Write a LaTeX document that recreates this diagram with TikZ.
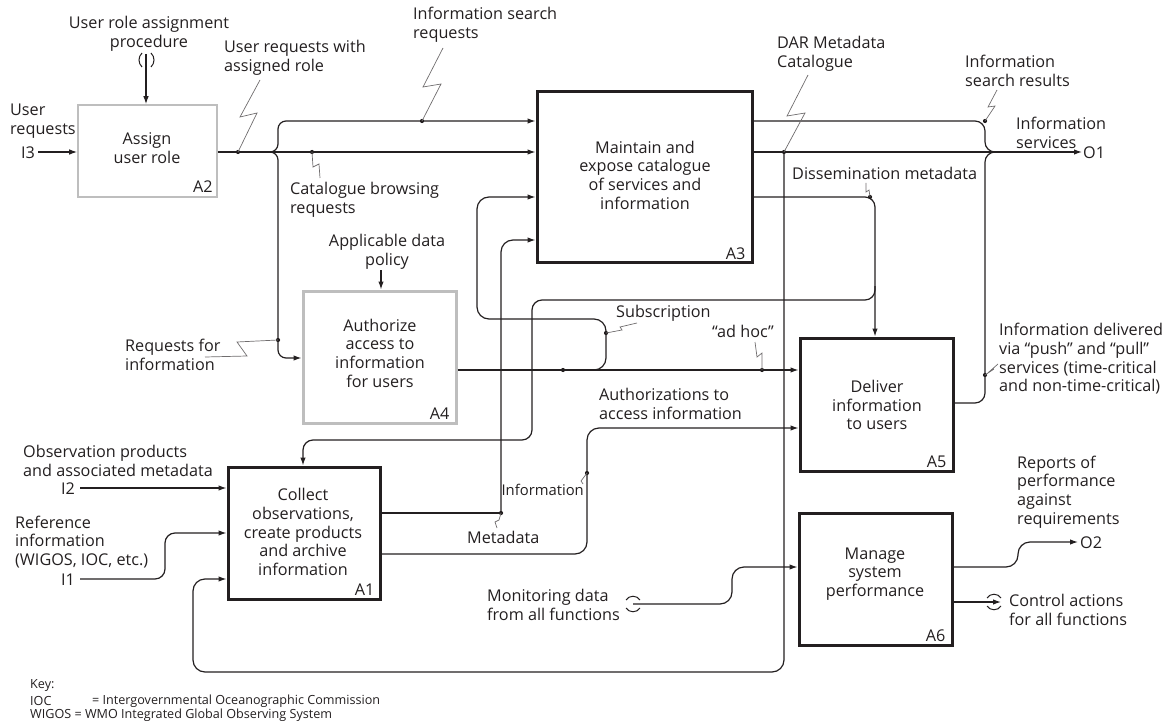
\documentclass[tikz,border=0pt]{standalone}
\usepackage{fontspec}
\setmainfont{Open Sans}
\usetikzlibrary{arrows.meta}
\definecolor{ink}{HTML}{231F20}
\definecolor{gbox}{HTML}{BEBEBE}
\begin{document}
\begin{tikzpicture}[x=1pt,y=-1pt,
  every node/.style={inner sep=0pt},
  lbl/.style={font=\fontsize{16.2}{18.7}\selectfont, text=ink},
  keytxt/.style={font=\fontsize{12.6}{13}\selectfont, text=ink},
  conn/.style={draw=ink, line width=1.2pt},
  arr/.style={conn, -{Latex[length=8pt,width=5.5pt]}},
  bolt/.style={draw=ink!65, line width=0.7pt},
  jdot/.style={circle, fill=ink, minimum size=4.2pt},
  boxk/.style={draw=ink, line width=3pt},
  boxg/.style={draw=gbox, line width=1.6pt},
  boxgg/.style={draw=gbox, line width=3pt},
  tun/.style={draw=ink, line width=1pt}]
\useasboundingbox (0,0) rectangle (1169,727);

% ---------- boxes ----------
\node[boxg, minimum width=139pt, minimum height=92pt] (a2) at (147.5,151) {};
\node[boxk, minimum width=215pt, minimum height=171pt] (a3) at (644.5,177.5) {};
\node[boxgg, minimum width=153pt, minimum height=132pt] (a4) at (379.5,357) {};
\node[boxk, minimum width=153pt, minimum height=133pt] (a5) at (876.5,404.5) {};
\node[boxk, minimum width=153pt, minimum height=132pt] (a6) at (875.5,579) {};
\node[boxk, minimum width=152pt, minimum height=132pt] (a1) at (304,533) {};

\node[lbl, align=center] (t2) at (147,148) {Assign\\user role};
\node[lbl, align=center] (t3) at (645,175) {Maintain and\\expose catalogue\\of services and\\information};
\node[lbl, align=center] (t4) at (380,353) {Authorize\\access to\\information\\for users};
\node[lbl, align=center] (t5) at (877,405) {Deliver\\information\\to users};
\node[lbl, align=center] (t6) at (875,574) {Manage\\system\\performance};
\node[lbl, align=center] (t1) at (303,532) {Collect\\observations,\\create products\\and archive\\information};

\node[lbl, anchor=south east] (id2) at ([shift={(-5,-5)}]a2.south east) {A2};
\node[lbl, anchor=south east] (id3) at ([shift={(-8,-5)}]a3.south east) {A3};
\node[lbl, anchor=south east] (id4) at ([shift={(-8,-5)}]a4.south east) {A4};
\node[lbl, anchor=south east] (id5) at ([shift={(-8,-5)}]a5.south east) {A5};
\node[lbl, anchor=south east] (id6) at ([shift={(-8,-5)}]a6.south east) {A6};
\node[lbl, anchor=south east] (id1) at ([shift={(-7,-5)}]a1.south east) {A1};

% ---------- A2 inputs / control ----------
\node[lbl, anchor=west, align=left] (lUser) at (10,121) {User\\requests};
\node[lbl] (lI3) at (28,153) {I3};
\draw[arr] (38,152) -- (a2.west |- 0,152);
\node[lbl, align=center] (lProc) at (149,34) {User role assignment\\procedure};
\coordinate (tunA) at (146,54);
\draw[arr] (tunA) -- (a2.north -| tunA);
\draw[tun] (142,53) .. controls (138,57) and (138,63) .. (142,67);
\draw[tun] (151,53) .. controls (155,57) and (155,63) .. (151,67);

% ---------- A2 output and branches ----------
\draw[arr] (a2.east |- 0,152) -- (a3.west |- 0,152);
\draw[arr, rounded corners=8pt] (270,152) -- (278,152) -- (278,121) -- (a3.west |- 0,121);
\draw[arr, rounded corners=8pt] (270,152) -- (278,152) -- (278,358) -- (a4.west |- 0,358);
\node[jdot] (d1) at (238,152) {};
\node[jdot] (d2) at (422,121) {};
\node[jdot] (d3) at (312,152) {};
\node[jdot] (d4) at (278,340) {};

\node[lbl, anchor=west, align=left] (lReqRole) at (224,58) {User requests with\\assigned role};
\draw[bolt] (d1.center) -- (257,113) -- (240,117) -- (260,80);
\node[lbl, anchor=west, align=left] (lSearch) at (413,25) {Information search\\requests};
\draw[bolt] (d2.center) -- (441,84) -- (423,87) -- (443,48);
\node[lbl, anchor=west, align=left] (lBrowse) at (290,200) {Catalogue browsing\\requests};
\draw[bolt] (d3.center) -- (313,167) -- (319,164) -- (320,178);
\node[lbl, anchor=west, align=left] (lReqInfo) at (125,355) {Requests for\\information};
\draw[bolt] (d4.center) -- (237,342) -- (247,356) -- (205,357);

% ---------- A3 outputs ----------
\draw[arr] (a3.east |- 0,152) -- (1082,152);
\draw[conn, rounded corners=10pt] (a3.east |- 0,121) -- (985,121) -- (985,152) -- (997,152);
\draw[conn, rounded corners=10pt] (a5.east |- 0,403) -- (985,403) -- (985,152) -- (997,152);
\draw[arr, rounded corners=10pt] (a3.east |- 0,197) -- (875,197) -- (a5.north -| 875,0);
\draw[arr, rounded corners=10pt] (875,286) -- (875,300) -- (532,300) -- (532,440) -- (303,440) -- (a1.north -| 303,0);
\draw[arr, rounded corners=12pt] (784,152) -- (784,672) -- (193,672) -- (193,579) -- (a1.west |- 0,579);

\node[jdot] (d5) at (784,152) {};
\node[jdot] (d6) at (985,121) {};
\node[jdot] (d7) at (870,197) {};
\node[jdot] (d8) at (985,375) {};

\node[lbl, anchor=west, align=left] (lDAR) at (777,54) {DAR Metadata\\Catalogue};
\draw[bolt] (d5.center) -- (805,113) -- (787,116) -- (808,75);
\node[lbl, anchor=west, align=left] (lResults) at (965,71) {Information\\search results};
\draw[bolt] (d6.center) -- (995,106) -- (988,107) -- (997,90);
\node[lbl, anchor=west, align=left] (lServ) at (1016,133) {Information\\services};
\node[lbl, anchor=west] (lO1) at (1083,153) {O1};
\node[lbl, anchor=west] (lDissem) at (792,173) {Dissemination metadata};
\draw[bolt] (d7.center) -- (869,190) -- (866,192) -- (866,183);
\node[lbl, anchor=west, align=left] (lDeliv) at (999,359) {Information delivered\\via “push” and “pull”\\services (time-critical\\and non-time-critical)};
\draw[bolt] (d8.center) -- (994,369) -- (990,371) -- (998,364);

% ---------- A4 ----------
\node[lbl, align=center] (lPolicy) at (387,252) {Applicable data\\policy};
\draw[arr] (381,270) -- (a4.north -| 381,0);
\draw[arr] (a4.east |- 0,370) -- (a5.west |- 0,370);
\draw[arr, rounded corners=12pt] (585,370) -- (606,370) -- (606,319) -- (477,319) -- (477,197) -- (a3.west |- 0,197);
\node[jdot] (d9) at (563,370) {};
\node[jdot] (d10) at (762,370) {};
\node[jdot] (d11) at (606,333) {};
\node[lbl, anchor=west] (lSub) at (616,313) {Subscription};
\draw[bolt] (d11.center) -- (622,330) -- (620,327) -- (637,323);
\node[lbl, anchor=west] (lAdhoc) at (712,331) {“ad hoc”};
\draw[bolt] (d10.center) -- (762,353) -- (757,357) -- (755,342);

% ---------- A1 ----------
\node[lbl, anchor=west, align=left] (lObs) at (23,461) {Observation products\\and associated metadata};
\node[lbl] (lI2) at (68,489) {I2};
\draw[arr] (80,488) -- (a1.west |- 0,488);
\node[lbl, anchor=west, align=left] (lRef) at (15,542) {Reference\\information\\(WIGOS, IOC, etc.)};
\node[lbl] (lI1) at (68,580) {I1};
\draw[arr, rounded corners=10pt] (80,579) -- (165,579) -- (165,533) -- (a1.west |- 0,533);

\draw[conn] (a1.east |- 0,513) -- (501,513);
\draw[arr, rounded corners=12pt] (501,513) -- (501,240) -- (a3.west |- 0,240);
\node[jdot] (d12) at (501,513) {};
\node[lbl, anchor=west] (lMeta) at (467,537) {Metadata};
\draw[bolt] (d12.center) -- (499,520) -- (495,522) -- (497,528);

\draw[arr, rounded corners=12pt] (a1.east |- 0,554) -- (587,554) -- (587,428) -- (a5.west |- 0,428);
\node[jdot] (d13) at (587,473) {};
\node[lbl, anchor=east, font=\fontsize{14.8}{17}\selectfont] (lInfo) at (584,490) {Information};
\node[lbl, anchor=west, align=left] (lAuth) at (599,404) {Authorizations to\\access information};
\draw[bolt] (d13.center) -- (584,477) -- (581,481) -- (583,484);

% ---------- A6 ----------
\node[lbl, anchor=west, align=left] (lMon) at (487,605) {Monitoring data\\from all functions};
\draw[arr, rounded corners=12pt] (633,604) -- (732,604) -- (732,567) -- (a6.west |- 0,567);
\draw[tun] (626,600) .. controls (629,595) and (637,595) .. (640,600);
\draw[tun] (626,608) .. controls (629,613) and (637,613) .. (640,608);

\draw[arr, rounded corners=12pt] (a6.east |- 0,567) -- (1018,567) -- (1018,542) -- (1078,542);
\node[lbl, anchor=west, align=left] (lRep) at (1017,492) {Reports of\\performance\\against\\requirements};
\node[lbl, anchor=west] (lO2) at (1080,543) {O2};
\draw[arr] (a6.east |- 0,602) -- (1001,602);
\draw[tun] (987,598) .. controls (990,593) and (998,593) .. (1001,598);
\draw[tun] (987,606) .. controls (990,611) and (998,611) .. (1001,606);
\node[lbl, anchor=west, align=left] (lCtrl) at (1009,610) {Control actions\\for all functions};

% ---------- key ----------
\node[keytxt, anchor=west] (k0) at (30,686) {Key:};
\node[keytxt, anchor=west] (k1) at (30,701) {IOC};
\node[keytxt, anchor=west] (k1b) at (92,701) {= Intergovernmental Oceanographic Commission};
\node[keytxt, anchor=west] (k2) at (30,715) {WIGOS = WMO Integrated Global Observing System};
\end{tikzpicture}
\end{document}
